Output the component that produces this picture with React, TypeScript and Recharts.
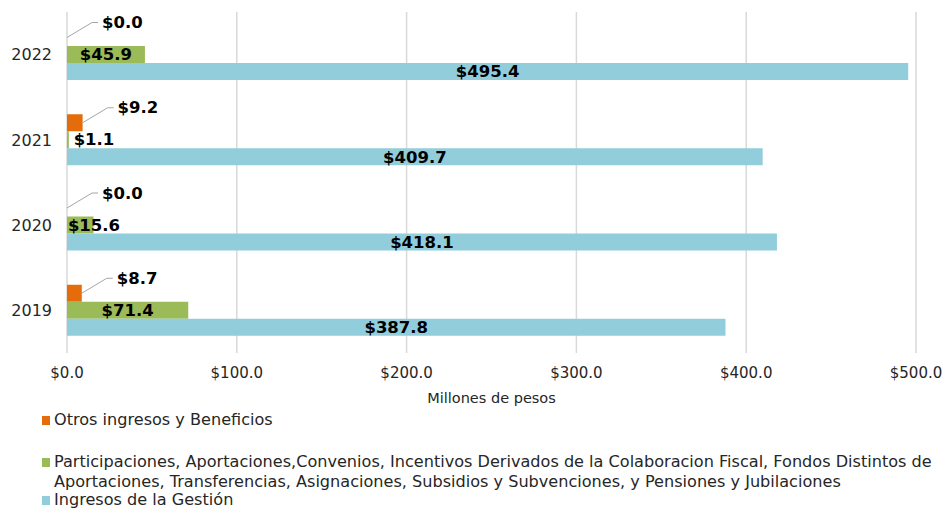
import React from 'react';
import { BarChart, Bar, XAxis, YAxis, CartesianGrid, LabelList } from 'recharts';

const years = ['2022', '2021', '2020', '2019'];
const otros = [0.0, 9.2, 0.0, 8.7];
const participaciones = [45.9, 1.1, 15.6, 71.4];
const gestion = [495.4, 409.7, 418.1, 387.8];
const xTicks = [0, 100, 200, 300, 400, 500];

const seriesNames = {
  otros: 'Otros ingresos y Beneficios',
  participaciones:
    'Participaciones, Aportaciones,Convenios, Incentivos Derivados de la Colaboracion Fiscal, Fondos Distintos de Aportaciones, Transferencias, Asignaciones, Subsidios y Subvenciones, y Pensiones y Jubilaciones',
  gestion: 'Ingresos de la Gestión',
};

const COLORS = { otros: '#E46C0A', participaciones: '#9BBB59', gestion: '#92CDDC' };
const FONT = '"DejaVu Sans", sans-serif';
const TEXT = '#262626';

const data = years.map((year, i) => ({
  year,
  otros: otros[i],
  participaciones: participaciones[i],
  gestion: gestion[i],
}));

const money = (v: number) => `$${Number(v).toFixed(1)}`;

const labelStyle = { fontFamily: FONT, fontWeight: 700, fontSize: 16.5, fill: '#000' };

// orange values get a leader line up and to the right, like the source
function OtrosLabel(props: any) {
  const x0 = Number(props.x) + Number(props.width);
  const y0 = Number(props.y) + Number(props.height) / 2;
  return (
    <g>
      <polyline
        points={`${x0},${y0} ${x0 + 25},${y0 - 15} ${x0 + 31},${y0 - 15}`}
        fill="none"
        stroke="#A6A6A6"
        strokeWidth={1}
      />
      <text x={x0 + 35} y={y0 - 15} dominantBaseline="central" style={labelStyle}>
        {money(props.value)}
      </text>
    </g>
  );
}

// green values sit in the bar, pushed right when the bar is too short
function ParticipacionesLabel(props: any) {
  const w = Number(props.width);
  const cx = Number(props.x) + Math.max(w / 2, 27);
  const cy = Number(props.y) + Number(props.height) / 2;
  return (
    <text x={cx} y={cy} textAnchor="middle" dominantBaseline="central" style={labelStyle}>
      {money(props.value)}
    </text>
  );
}

function LegendItem({ color, text, top }: { color: string; text: string; top: number }) {
  return (
    <div style={{ position: 'absolute', left: 42, top, display: 'flex', alignItems: 'flex-start' }}>
      <div style={{ width: 8, height: 9, background: color, marginTop: 6, marginRight: 4, flex: 'none' }} />
      <div style={{ width: 892, fontFamily: FONT, fontSize: 16.1, lineHeight: '20px', color: TEXT }}>{text}</div>
    </div>
  );
}

export default function App() {
  return (
    <div style={{ position: 'absolute', left: 0, top: 0, width: 948, height: 508, background: '#fff', overflow: 'hidden' }}>
      <BarChart
        width={948}
        height={410}
        data={data}
        layout="vertical"
        margin={{ top: 12, right: 32, bottom: 0, left: 0 }}
        barSize={17}
        barGap={0}
      >
        <CartesianGrid horizontal={false} stroke="#D9D9D9" strokeWidth={1.5} />
        <XAxis
          type="number"
          domain={[0, 500]}
          ticks={xTicks}
          tickFormatter={money}
          axisLine={false}
          tickLine={false}
          tickSize={0}
          tickMargin={14}
          height={57}
          tick={{ fontFamily: FONT, fontSize: 15, fill: TEXT }}
          label={{
            value: 'Millones de pesos',
            position: 'insideBottom',
            offset: 7,
            style: { fontFamily: FONT, fontSize: 14.5, fill: TEXT },
          }}
        />
        <YAxis
          type="category"
          dataKey="year"
          width={67}
          axisLine={false}
          tickLine={false}
          tickSize={0}
          tickMargin={15}
          tick={{ fontFamily: FONT, fontSize: 16, fill: TEXT }}
        />
        <Bar dataKey="otros" name={seriesNames.otros} fill={COLORS.otros} minPointSize={0.01} isAnimationActive={false}>
          <LabelList dataKey="otros" content={OtrosLabel} />
        </Bar>
        <Bar dataKey="participaciones" name={seriesNames.participaciones} fill={COLORS.participaciones} isAnimationActive={false}>
          <LabelList dataKey="participaciones" content={ParticipacionesLabel} />
        </Bar>
        <Bar dataKey="gestion" name={seriesNames.gestion} fill={COLORS.gestion} isAnimationActive={false}>
          <LabelList dataKey="gestion" position="center" formatter={money} style={labelStyle} />
        </Bar>
      </BarChart>
      <LegendItem color={COLORS.otros} text={seriesNames.otros} top={410} />
      <LegendItem color={COLORS.participaciones} text={seriesNames.participaciones} top={452} />
      <LegendItem color={COLORS.gestion} text={seriesNames.gestion} top={490} />
    </div>
  );
}
